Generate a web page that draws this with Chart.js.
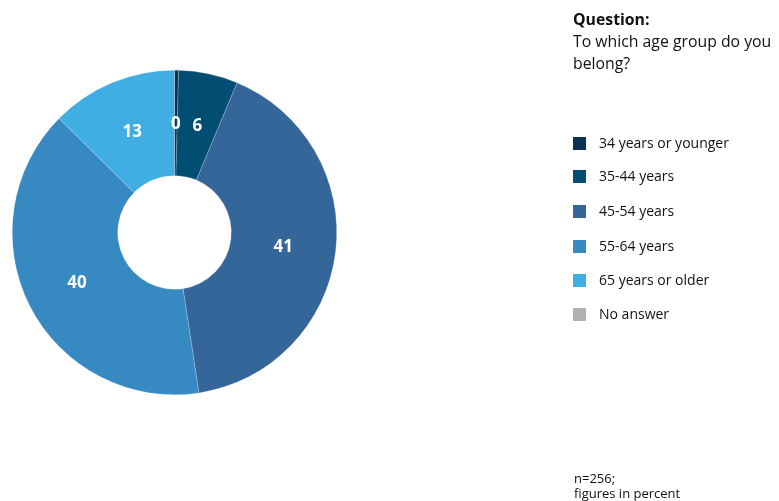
<!DOCTYPE html>
<html>
<head>
<meta charset="utf-8">
<script src="https://cdn.jsdelivr.net/npm/chart.js@4.4.1/dist/chart.umd.min.js"></script>
<style>
  html, body { margin: 0; padding: 0; background: #fff; }
  #wrap { position: relative; width: 779px; height: 501px; overflow: hidden; font-family: "Open Sans", sans-serif; color: #111; }
  #c { position: absolute; left: 0; top: 0; }
  .q { position: absolute; left: 573px; top: 8px; font-size: 15.8px; line-height: 22px; }
  .q b { font-weight: 700; }
  .legend { position: absolute; left: 573px; top: 0; font-size: 14px; }
  .legend .row { position: absolute; left: 0; white-space: nowrap; height: 16px; }
  .legend .sw { position: absolute; left: 0; top: 1px; width: 13px; height: 13px; }
  .legend .tx { position: absolute; left: 26px; top: -2px; line-height: 18px; }
  .note { position: absolute; left: 574px; top: 471px; font-size: 13px; line-height: 15px; }
</style>
</head>
<body>
<div id="wrap">
  <canvas id="c" width="779" height="501"></canvas>
  <div class="q"><b>Question:</b><br>To which age group do you<br>belong?</div>
  <div class="legend" id="legend"></div>
  <div class="note">n=256;<br>figures in percent</div>
</div>
<script>
// Age groups of respondents, share in percent
const categories = ["34 years or younger", "35-44 years", "45-54 years", "55-64 years", "65 years or older", "No answer"];
const shares = [0.4, 5.9, 41.3, 39.8, 12.6, 0];
const colors = ["#0c3151", "#024d72", "#356699", "#3789c2", "#41aee3", "#b2b2b2"];

// Legend rows (HTML text)
const legendTops = [136, 169, 204, 239, 273, 307];
const legendEl = document.getElementById("legend");
categories.forEach((name, i) => {
  const row = document.createElement("div");
  row.className = "row";
  row.style.top = legendTops[i] + "px";
  row.innerHTML = '<span class="sw" style="background:' + colors[i] + '"></span><span class="tx">' + name + '</span>';
  legendEl.appendChild(row);
});

// Value labels in the middle of each ring segment
const sliceLabels = {
  id: "sliceLabels",
  afterDatasetsDraw(chart) {
    const ctx = chart.ctx;
    const meta = chart.getDatasetMeta(0);
    const values = chart.data.datasets[0].data;
    ctx.save();
    ctx.fillStyle = "#ffffff";
    ctx.font = "bold 17px 'Open Sans', sans-serif";
    ctx.textAlign = "center";
    ctx.textBaseline = "middle";
    meta.data.forEach((arc, i) => {
      if (i >= 5) return;
      const p = arc.tooltipPosition();
      ctx.fillText(String(Math.round(values[i])), p.x, p.y + 1);
    });
    ctx.restore();
  }
};

new Chart(document.getElementById("c"), {
  type: "doughnut",
  data: {
    labels: categories,
    datasets: [{
      data: shares,
      backgroundColor: colors,
      borderColor: "rgba(255,255,255,0.4)",
      borderWidth: 0.5
    }]
  },
  options: {
    responsive: false,
    animation: false,
    cutout: "35%",
    layout: { padding: { left: 12, top: 70, right: 442, bottom: 106 } },
    plugins: {
      legend: { display: false },
      tooltip: { enabled: false }
    }
  },
  plugins: [sliceLabels]
});
</script>
</body>
</html>
